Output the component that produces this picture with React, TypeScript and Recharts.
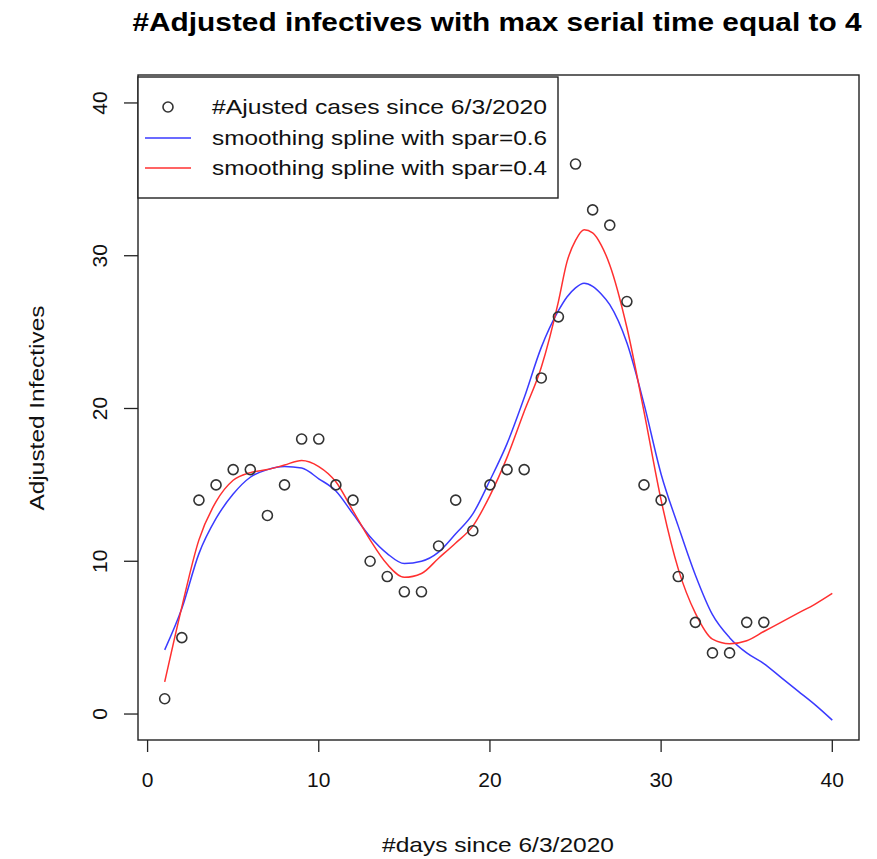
import React from "react";
import { ComposedChart, Scatter, Line, XAxis, YAxis } from "recharts";

// observed adjusted cases, days 1..36
const days = [1, 2, 3, 4, 5, 6, 7, 8, 9, 10, 11, 12, 13, 14, 15, 16, 17, 18, 19, 20, 21, 22, 23, 24, 25, 26, 27, 28, 29, 30, 31, 32, 33, 34, 35, 36];
const cases = [1, 5, 14, 15, 16, 16, 13, 15, 18, 18, 15, 14, 10, 9, 8, 8, 11, 14, 12, 15, 16, 16, 22, 26, 36, 33, 32, 27, 15, 14, 9, 6, 4, 4, 6, 6];

// fitted splines, days 1..40 (extra points around the peak)
const fitDays = [1, 2, 3, 4, 5, 6, 7, 8, 9, 10, 11, 12, 13, 14, 15, 16, 17, 18, 19, 20, 21, 22, 23, 24, 24.5, 25, 25.5, 26, 26.5, 27, 28, 29, 30, 31, 32, 33, 34, 35, 36, 37, 38, 39, 40];
const spar06 = [4.2, 6.9, 10.5, 12.8, 14.4, 15.5, 16.0, 16.2, 16.1, 15.4, 14.6, 13.1, 11.6, 10.5, 9.85, 10.0, 10.6, 11.8, 13.1, 15.3, 17.7, 20.7, 24.0, 26.4, 27.3, 27.9, 28.2, 28.0, 27.5, 26.8, 24.3, 20.3, 15.7, 12.3, 9.1, 6.5, 5.0, 4.0, 3.3, 2.4, 1.5, 0.6, -0.4];
const spar04 = [2.1, 7.0, 11.4, 13.9, 15.3, 15.8, 16.0, 16.3, 16.6, 16.2, 15.2, 13.3, 11.4, 9.8, 8.95, 9.2, 10.2, 11.2, 12.3, 14.3, 16.8, 19.8, 22.7, 27.0, 29.6, 31.0, 31.7, 31.5, 30.7, 29.4, 25.3, 19.8, 14.0, 9.5, 6.6, 4.9, 4.6, 4.8, 5.4, 6.0, 6.6, 7.2, 7.9];

const xTicks = [0, 10, 20, 30, 40];
const yTicks = [0, 10, 20, 30, 40];

const pointData = days.map((d, i) => ({ x: d, y: cases[i] }));
const blueData = fitDays.map((d, i) => ({ x: d, y: spar06[i] }));
const redData = fitDays.map((d, i) => ({ x: d, y: spar04[i] }));

const FONT = '"Liberation Sans", Arial, sans-serif';

const XTick = (props: any) => {
  const { x, y, payload } = props;
  return (
    <text x={x} y={y + 35} textAnchor="middle" fontSize={21} fontFamily={FONT} fill="#111">
      {payload.value}
    </text>
  );
};

const YTick = (props: any) => {
  const { x, y, payload } = props;
  const bx = x - 17;
  return (
    <text x={bx} y={y} textAnchor="middle" fontSize={21} fontFamily={FONT} fill="#111" transform={`rotate(-90, ${bx}, ${y})`}>
      {payload.value}
    </text>
  );
};

const Ring = (props: any) => {
  const { cx, cy } = props;
  return <circle cx={cx} cy={cy} r={5} fill="none" stroke="#333" strokeWidth={1.6} />;
};

export default function App() {
  return (
    <div style={{ position: "absolute", left: 0, top: 0, width: 877, height: 859, background: "#fff" }}>
      <ComposedChart width={877} height={859} margin={{ top: 75, right: 18, left: 78, bottom: 59 }}>
        <XAxis
          type="number"
          dataKey="x"
          domain={[-0.56, 41.56]}
          ticks={xTicks}
          axisLine={false}
          tickLine={{ stroke: "#222", strokeWidth: 1.3 }}
          tickSize={12}
          tickMargin={0}
          height={60}
          tick={<XTick />}
          allowDataOverflow
        />
        <YAxis
          type="number"
          domain={[-1.7, 41.83]}
          ticks={yTicks}
          axisLine={false}
          tickLine={{ stroke: "#222", strokeWidth: 1.3 }}
          tickSize={14}
          tickMargin={0}
          width={60}
          tick={<YTick />}
          allowDataOverflow
        />
        <Scatter data={pointData} dataKey="y" shape={<Ring />} isAnimationActive={false} />
        <Line data={blueData} dataKey="y" type="monotone" stroke="#3a3aff" strokeWidth={1.5} dot={false} isAnimationActive={false} />
        <Line data={redData} dataKey="y" type="monotone" stroke="#ff3030" strokeWidth={1.5} dot={false} isAnimationActive={false} />
      </ComposedChart>
      <svg width={877} height={859} style={{ position: "absolute", left: 0, top: 0, pointerEvents: "none" }}>
        <text x={497} y={31} textAnchor="middle" fontSize={25} fontWeight="bold" fontFamily={FONT} textLength={729} lengthAdjust="spacingAndGlyphs" fill="#000">
          #Adjusted infectives with max serial time equal to 4
        </text>
        <rect x={138} y={75} width={721} height={665} fill="none" stroke="#222" strokeWidth={1.4} />
        <text x={498} y={852} textAnchor="middle" fontSize={21} fontFamily={FONT} textLength={232} lengthAdjust="spacingAndGlyphs" fill="#111">
          #days since 6/3/2020
        </text>
        <text x={44} y={408} textAnchor="middle" fontSize={21} fontFamily={FONT} textLength={205} lengthAdjust="spacingAndGlyphs" fill="#111" transform="rotate(-90, 44, 408)">
          Adjusted Infectives
        </text>
        <g>
          <rect x={138} y={77} width={420} height={121} fill="#fff" stroke="#222" strokeWidth={1.4} />
          <circle cx={168} cy={107} r={5} fill="none" stroke="#333" strokeWidth={1.6} />
          <line x1={145} x2={191} y1={138} y2={138} stroke="#3a3aff" strokeWidth={1.5} />
          <line x1={145} x2={191} y1={168} y2={168} stroke="#ff3030" strokeWidth={1.5} />
          <text x={212} y={114} fontSize={21} fontFamily={FONT} textLength={335} lengthAdjust="spacingAndGlyphs" fill="#111">#Ajusted cases since 6/3/2020</text>
          <text x={212} y={145} fontSize={21} fontFamily={FONT} textLength={335} lengthAdjust="spacingAndGlyphs" fill="#111">smoothing spline with spar=0.6</text>
          <text x={212} y={175} fontSize={21} fontFamily={FONT} textLength={335} lengthAdjust="spacingAndGlyphs" fill="#111">smoothing spline with spar=0.4</text>
        </g>
      </svg>
    </div>
  );
}
